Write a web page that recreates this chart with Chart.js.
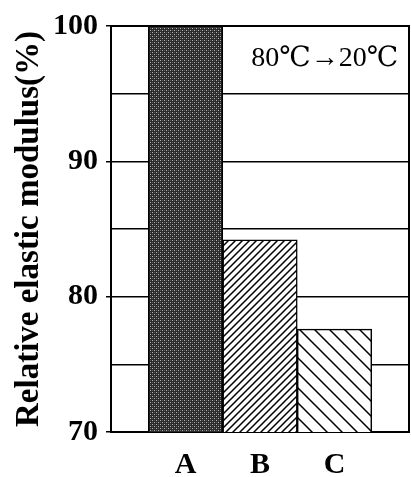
<!DOCTYPE html>
<html>
<head>
<meta charset="utf-8">
<script src="https://cdn.jsdelivr.net/npm/chart.js@4/dist/chart.umd.min.js"></script>
<style>
  html, body { margin: 0; padding: 0; background: #fff; }
  #wrap { width: 411px; height: 477px; }
</style>
</head>
<body>
<div id="wrap"><canvas id="c" width="411" height="477"></canvas></div>
<script>
// ---- data ----
const categories = ['A', 'B', 'C'];
const values = [100, 84.2, 77.6];
const yTickLabels = [70, 80, 90, 100];
const yTitle = 'Relative elastic modulus(%)';
const annotationText = '80\u2103\u219220\u2103';

// ---- patterns ----
function stipplePattern() {
  const t = document.createElement('canvas');
  t.width = 4; t.height = 4;
  const g = t.getContext('2d');
  g.fillStyle = '#2b2b2b';
  g.fillRect(0, 0, 4, 4);
  g.fillStyle = '#b4b4b4';
  g.fillRect(0, 0, 1, 1);
  g.fillRect(2, 2, 1, 1);
  g.fillStyle = '#5a5a5a';
  g.fillRect(2, 0, 1, 1);
  g.fillRect(0, 2, 1, 1);
  return g.createPattern(t, 'repeat');
}
function hatchPattern(size, forward, lw) {
  const t = document.createElement('canvas');
  t.width = size; t.height = size;
  const g = t.getContext('2d');
  g.fillStyle = '#fff';
  g.fillRect(0, 0, size, size);
  g.strokeStyle = '#000';
  g.lineWidth = lw;
  g.beginPath();
  if (forward) {
    g.moveTo(-1, size + 1); g.lineTo(size + 1, -1);
    g.moveTo(-1, 1); g.lineTo(1, -1);
    g.moveTo(size - 1, size + 1); g.lineTo(size + 1, size - 1);
  } else {
    g.moveTo(-1, -1); g.lineTo(size + 1, size + 1);
    g.moveTo(size - 1, -1); g.lineTo(size + 1, 1);
    g.moveTo(-1, size - 1); g.lineTo(1, size + 1);
  }
  g.stroke();
  return g.createPattern(t, 'repeat');
}
const fills = [stipplePattern(), hatchPattern(7, true, 1.5), hatchPattern(15, false, 1.5)];

const labels = ['', ...categories, ''];
const data = [null, ...values, null];
const bg = ['#fff', ...fills, '#fff'];

const serif = '"Liberation Serif", "Times New Roman", serif';

const framePlugin = {
  id: 'frame',
  afterDatasetsDraw(chart) {
    const { ctx, chartArea: a } = chart;
    ctx.save();
    ctx.strokeStyle = '#000';
    ctx.lineWidth = 2;
    ctx.beginPath();
    ctx.moveTo(a.left, a.top);
    ctx.lineTo(a.right, a.top);
    ctx.lineTo(a.right, a.bottom);
    ctx.stroke();
    ctx.fillStyle = '#000';
    ctx.font = '28px "Liberation Serif", "DejaVu Serif", "Noto Sans CJK SC", serif';
    ctx.textAlign = 'right';
    ctx.textBaseline = 'alphabetic';
    ctx.fillText(annotationText, a.right - 11, a.top + 40);
    ctx.restore();
  }
};

new Chart(document.getElementById('c'), {
  type: 'bar',
  data: {
    labels: labels,
    datasets: [{
      data: data,
      backgroundColor: bg,
      borderColor: '#000',
      borderWidth: 1.5,
      borderSkipped: false,
      barPercentage: 1,
      categoryPercentage: 1
    }]
  },
  options: {
    responsive: false,
    animation: false,
    devicePixelRatio: 1,
    layout: { padding: { top: 25, right: 2, left: 0, bottom: 0 } },
    plugins: { legend: { display: false }, tooltip: { enabled: false } },
    scales: {
      x: {
        offset: false,
        grid: { display: true, drawOnChartArea: false, drawTicks: true, tickLength: 13, tickColor: 'rgba(0,0,0,0)', color: 'rgba(0,0,0,0)' },
        border: { display: true, color: '#000', width: 2 },
        ticks: {
          color: '#000',
          padding: 2,
          maxRotation: 0,
          autoSkip: false,
          font: { family: serif, size: 30, weight: 'bold' }
        },
        afterFit(s) { s.height = 45; }
      },
      y: {
        min: 70,
        max: 100,
        grid: {
          color: '#000',
          lineWidth: 1.5,
          tickLength: 5,
          tickColor: (c) => (c.tick && c.tick.value % 10 === 0) ? '#000' : 'rgba(0,0,0,0)'
        },
        border: { display: true, color: '#000', width: 2 },
        ticks: {
          stepSize: 5,
          color: '#000',
          padding: 8,
          font: { family: serif, size: 30, weight: 'bold' },
          callback: (v) => yTickLabels.includes(v) ? String(v) : ''
        },
        title: {
          display: true,
          text: yTitle,
          color: '#000',
          padding: { top: 10, bottom: 0 },
          font: { family: serif, size: 33, weight: 'bold' }
        },
        afterFit(s) { s.width = 111; }
      }
    }
  },
  plugins: [framePlugin]
});
</script>
</body>
</html>
